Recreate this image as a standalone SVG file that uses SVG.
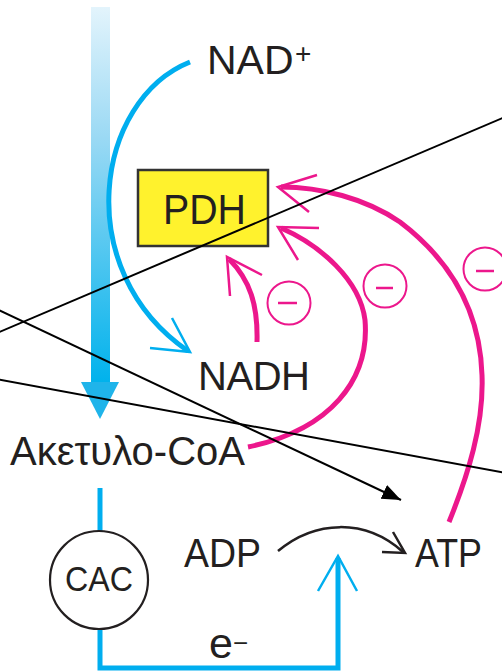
<svg xmlns="http://www.w3.org/2000/svg" width="502" height="671" viewBox="0 0 502 671">
<style>
text{font-family:"Liberation Sans",Arial,sans-serif;fill:#231f20}
.lbl{font-size:40px}
.big{font-size:43px}
.blue{fill:none;stroke:#00aeef;stroke-width:5}
.bluebarb{fill:none;stroke:#00aeef;stroke-width:2.5}
.pink{fill:none;stroke:#ec178c;stroke-width:5;stroke-linecap:butt}
.pinkbarb{fill:none;stroke:#ec178c;stroke-width:2.5}
.minus circle{fill:none;stroke:#ec178c;stroke-width:2}
.minus line{stroke:#ec178c;stroke-width:2.5}
.black{fill:none;stroke:#000;stroke-width:2}
</style>
<defs>
<linearGradient id="barGrad" x1="0" y1="0" x2="0" y2="1">
<stop offset="0" stop-color="#e3f4fc"/>
<stop offset="0.35" stop-color="#9ad9f4"/>
<stop offset="1" stop-color="#00b2ec"/>
</linearGradient>
<marker id="blackHead" markerUnits="userSpaceOnUse" markerWidth="20" markerHeight="16" refX="19" refY="7.5" orient="auto">
<path d="M0,0 L19,7.5 L0,15 z" fill="#000"/>
</marker>
</defs>

<g id="connectors">
<rect x="91" y="7" width="19" height="376" fill="url(#barGrad)"/>
<path d="M81,382 L119,382 L100,419 z" fill="#1fb4ea"/>
<path class="blue" d="M190,62 C95,100 70,270 188,351"/>
<path class="bluebarb" d="M150,348 L190,352 L172,318"/>
<line class="blue" x1="100" y1="488" x2="100" y2="531"/>
<path class="blue" d="M100,629 L100,668 L338,668 L338,558"/>
<path class="bluebarb" d="M318,591 L338,556 L357,591"/>
<path d="M278,551 C315,520 365,518 403,552" fill="none" stroke="#231f20" stroke-width="2.5"/>
<path d="M393,532 L405,553 L382,552" fill="none" stroke="#231f20" stroke-width="2.5"/>
<path class="pink" d="M257,342 C258,305 250,280 229,259"/>
<path class="pinkbarb" d="M230,296 L227,257 L262,275"/>
<path class="pink" d="M248,447 C330,430 370,380 365,320 C360,280 320,245 281,228"/>
<path class="pinkbarb" d="M319,228 L278,227 L298,260"/>
<path class="pink" d="M449,522 C468,475 484,425 482,375 C480,310 450,260 400,222 C365,198 320,187 281,187"/>
<path class="pinkbarb" d="M317,175 L278,187 L309,212"/>
</g>

<g id="inhibitors" class="minus">
<g id="minus1"><circle cx="289" cy="303" r="21.5"/><line x1="278" y1="303" x2="297" y2="303"/></g>
<g id="minus2"><circle cx="385" cy="286" r="21.5"/><line x1="376" y1="288" x2="393" y2="288"/></g>
<g id="minus3"><circle cx="485" cy="269" r="21.5"/><line x1="476" y1="271" x2="494" y2="271"/></g>
</g>

<g id="nad">
<text x="207" y="74" font-size="41">NAD</text>
<text x="295" y="63" font-size="28">+</text>
</g>
<g id="pdh">
<rect x="138" y="170" width="130" height="76" fill="#fff22d" stroke="#333" stroke-width="2.5"/>
<text class="big" x="163" y="224" textLength="83" lengthAdjust="spacingAndGlyphs">PDH</text>
</g>
<g id="nadh">
<text class="lbl" x="198" y="390" textLength="112">NADH</text>
</g>
<g id="acetylcoa">
<text class="lbl" x="10" y="465" textLength="235">Ακετυλο-CoA</text>
</g>
<g id="cac">
<circle cx="99" cy="580" r="49" fill="none" stroke="#231f20" stroke-width="2.2"/>
<text x="99" y="591" font-size="35" text-anchor="middle" textLength="68" lengthAdjust="spacingAndGlyphs">CAC</text>
</g>
<g id="adp">
<text class="lbl" x="184" y="567" textLength="77" lengthAdjust="spacingAndGlyphs">ADP</text>
</g>
<g id="atp">
<text class="lbl" x="415" y="567" textLength="67" lengthAdjust="spacingAndGlyphs">ATP</text>
</g>
<g id="electrons">
<text class="big" x="209" y="658">e<tspan dy="-6" font-size="26">−</tspan></text>
</g>

<g id="overlay-lines">
<line class="black" x1="-10" y1="336" x2="512" y2="114"/>
<line class="black" x1="-10" y1="306" x2="401" y2="500" marker-end="url(#blackHead)"/>
<line class="black" x1="-10" y1="378" x2="512" y2="474"/>
</g>
</svg>
